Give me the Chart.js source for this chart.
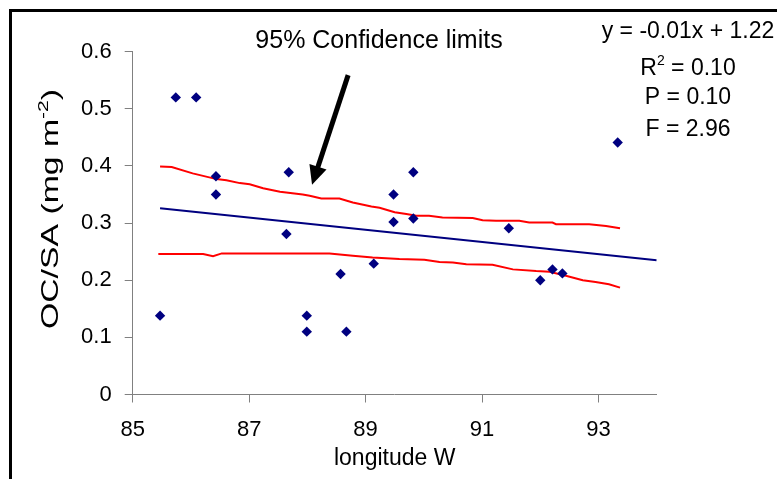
<!DOCTYPE html>
<html><head><meta charset="utf-8">
<script src="https://cdn.jsdelivr.net/npm/chart.js@4"></script>
<style>html,body{margin:0;padding:0;background:#fff}canvas{display:block}</style>
</head><body>
<canvas id="c" width="777" height="479"></canvas>
<script>
// ---- data ----
const lonW = [85.47,85.74,86.09,86.43,86.43,87.68,87.64,87.99,87.99,88.57,88.67,89.14,89.48,89.48,89.82,89.82,91.46,92.00,92.21,92.38,93.33];
const ocsa = [0.138,0.520,0.520,0.382,0.350,0.389,0.281,0.138,0.110,0.211,0.110,0.229,0.350,0.302,0.389,0.308,0.291,0.200,0.219,0.212,0.441];

const upperX = [85.47,85.67,86.03,86.44,86.61,86.84,87.01,87.24,87.53,87.92,88.04,88.24,88.55,88.78,89.10,89.24,89.50,89.70,89.87,90.09,90.32,90.84,91.01,91.24,91.64,91.81,92.21,92.27,92.84,93.13,93.37];
const upperY = [0.399,0.398,0.387,0.377,0.375,0.370,0.368,0.361,0.355,0.350,0.348,0.343,0.343,0.336,0.329,0.327,0.319,0.316,0.313,0.313,0.310,0.309,0.305,0.304,0.304,0.301,0.301,0.298,0.298,0.295,0.291];

const lowerX = [85.44,86.21,86.38,86.53,88.38,88.78,89.12,89.58,90.01,90.27,90.50,90.73,91.18,91.53,91.93,92.16,92.44,92.73,92.95,93.18,93.37];
const lowerY = [0.246,0.246,0.242,0.247,0.247,0.243,0.240,0.237,0.236,0.232,0.231,0.228,0.227,0.219,0.216,0.215,0.208,0.200,0.197,0.193,0.187];

const regX = [85.47, 94.0];
const regY = [0.326, 0.235];

const xTicks = [85,87,89,91,93];
const xTickLabels = ['85','87','89','91','93'];
const yTicks = [0,0.1,0.2,0.3,0.4,0.5,0.6];
const yTickLabels = ['0','0.1','0.2','0.3','0.4','0.5','0.6'];

const arrowTail = [88.70, 0.559];
const arrowTip = [88.08, 0.367];

const statLines = ['y = -0.01x + 1.22', 'R2 = 0.10', 'P = 0.10', 'F = 2.96'];
const annotationText = '95% Confidence limits';
const yTitleMain = 'OC/SA (mg m';
const yTitleSup = '-2';
const yTitleEnd = ')';
const xTitle = 'longitude W';

// ---- build ----
const zip = (xs, ys) => xs.map((x, i) => ({x: x, y: ys[i]}));
const FONT = 'Liberation Sans, Arial, sans-serif';

const bgPlugin = {
  id: 'bg',
  beforeDraw(chart) {
    const c = chart.ctx;
    c.save();
    c.fillStyle = '#fff';
    c.fillRect(0, 0, chart.width, chart.height);
    c.restore();
  }
};

const decoPlugin = {
  id: 'deco',
  afterDraw(chart) {
    const c = chart.ctx;
    const xs = chart.scales.x, ys = chart.scales.y;
    c.save();
    // outer frame
    c.strokeStyle = '#000';
    c.lineWidth = 3;
    c.strokeRect(10.5, 10.5, 900, 600);

    // arrow
    const tx = xs.getPixelForValue(arrowTip[0]), ty = ys.getPixelForValue(arrowTip[1]);
    const sx = xs.getPixelForValue(arrowTail[0]), sy = ys.getPixelForValue(arrowTail[1]);
    const ang = Math.atan2(ty - sy, tx - sx);
    const headLen = 19, headHalf = 9;
    const bx = tx - headLen * Math.cos(ang), by = ty - headLen * Math.sin(ang);
    c.strokeStyle = '#000';
    c.lineWidth = 5;
    c.lineCap = 'butt';
    c.beginPath(); c.moveTo(sx, sy); c.lineTo(bx + 2 * Math.cos(ang), by + 2 * Math.sin(ang)); c.stroke();
    c.fillStyle = '#000';
    c.beginPath();
    c.moveTo(tx, ty);
    c.lineTo(bx + headHalf * Math.sin(ang), by - headHalf * Math.cos(ang));
    c.lineTo(bx - headHalf * Math.sin(ang), by + headHalf * Math.cos(ang));
    c.closePath(); c.fill();

    // annotation text
    c.fillStyle = '#000';
    c.textBaseline = 'alphabetic';
    c.textAlign = 'center';
    c.font = '25px ' + FONT;
    c.fillText(annotationText, 379, 48);

    // statistics block
    const eqSize = 23;
    const baselines = [38, 75, 104, 136];
    const cx = 688;
    c.font = eqSize + 'px ' + FONT;
    c.fillText(statLines[0], cx, baselines[0]);
    // R^2 line with superscript
    {
      const a = 'R', sup = '2', b = ' = 0.10';
      c.font = eqSize + 'px ' + FONT;
      const wa = c.measureText(a).width, wb = c.measureText(b).width;
      c.font = Math.round(eqSize * 0.62) + 'px ' + FONT;
      const ws = c.measureText(sup).width;
      let x0 = cx - (wa + ws + wb) / 2;
      c.textAlign = 'left';
      c.font = eqSize + 'px ' + FONT;
      c.fillText(a, x0, baselines[1]);
      c.font = Math.round(eqSize * 0.62) + 'px ' + FONT;
      c.fillText(sup, x0 + wa, baselines[1] - eqSize * 0.42);
      c.font = eqSize + 'px ' + FONT;
      c.fillText(b, x0 + wa + ws, baselines[1]);
      c.textAlign = 'center';
    }
    c.fillText(statLines[2], cx, baselines[2]);
    c.fillText(statLines[3], cx, baselines[3]);

    // y axis title (rotated, with superscript), elongated along its length as in the reference
    {
      const fs = 24;
      const targetLen = 240;
      c.save();
      c.translate(58, 209);
      c.rotate(-Math.PI / 2);
      c.textAlign = 'left';
      c.textBaseline = 'alphabetic';
      c.font = fs + 'px ' + FONT;
      const w1 = c.measureText(yTitleMain).width, w3 = c.measureText(yTitleEnd).width;
      c.font = Math.round(fs * 0.62) + 'px ' + FONT;
      const w2 = c.measureText(yTitleSup).width;
      const total = w1 + w2 + w3;
      c.scale(targetLen / total, 1);
      let x0 = -total / 2;
      c.font = fs + 'px ' + FONT;
      c.fillText(yTitleMain, x0, 0);
      c.font = Math.round(fs * 0.62) + 'px ' + FONT;
      c.fillText(yTitleSup, x0 + w1, -fs * 0.42);
      c.font = fs + 'px ' + FONT;
      c.fillText(yTitleEnd, x0 + w1 + w2, 0);
      c.restore();
    }
    c.restore();
  }
};

new Chart(document.getElementById('c'), {
  type: 'scatter',
  data: {
    datasets: [
      {
        label: 'OC/SA',
        data: zip(lonW, ocsa),
        pointStyle: 'rectRot',
        pointRadius: 5.2,
        pointHoverRadius: 5.2,
        backgroundColor: '#000080',
        borderColor: '#000080',
        borderWidth: 0
      },
      {
        label: 'Regression',
        data: zip(regX, regY),
        showLine: true,
        pointRadius: 0,
        borderColor: '#000080',
        borderWidth: 2,
        fill: false
      },
      {
        label: 'Upper 95% limit',
        data: zip(upperX, upperY),
        showLine: true,
        pointRadius: 0,
        borderColor: '#ff0000',
        borderWidth: 2,
        fill: false
      },
      {
        label: 'Lower 95% limit',
        data: zip(lowerX, lowerY),
        showLine: true,
        pointRadius: 0,
        borderColor: '#ff0000',
        borderWidth: 2,
        fill: false
      }
    ]
  },
  options: {
    responsive: false,
    animation: false,
    devicePixelRatio: 1,
    layout: { padding: { left: 0, top: 51.7, right: 120.3, bottom: 0 } },
    plugins: { legend: { display: false }, tooltip: { enabled: false } },
    scales: {
      x: {
        type: 'linear', min: 85, max: 94,
        afterBuildTicks: s => { s.ticks = xTicks.map(v => ({ value: v })); },
        afterFit: s => { s.height = 84.5; },
        ticks: {
          callback: (v, i) => xTickLabels[i],
          font: { family: FONT, size: 22 }, color: '#000', padding: 14,
          maxRotation: 0, autoSkip: false
        },
        grid: { drawOnChartArea: false, tickLength: 8, color: '#808080' },
        border: { color: '#808080', width: 1 },
        title: {
          display: true, text: xTitle, color: '#000',
          font: { family: FONT, size: 23 }, padding: { top: 0, bottom: 7 }
        }
      },
      y: {
        type: 'linear', min: 0, max: 0.6,
        afterBuildTicks: s => { s.ticks = yTicks.map(v => ({ value: v })); },
        afterFit: s => { s.width = 132.7; },
        ticks: {
          callback: (v, i) => yTickLabels[i],
          font: { family: FONT, size: 22 }, color: '#000', padding: 13,
          autoSkip: false
        },
        grid: { drawOnChartArea: false, tickLength: 8, color: '#808080' },
        border: { color: '#808080', width: 1 }
      }
    }
  },
  plugins: [bgPlugin, decoPlugin]
});
</script>
</body></html>
